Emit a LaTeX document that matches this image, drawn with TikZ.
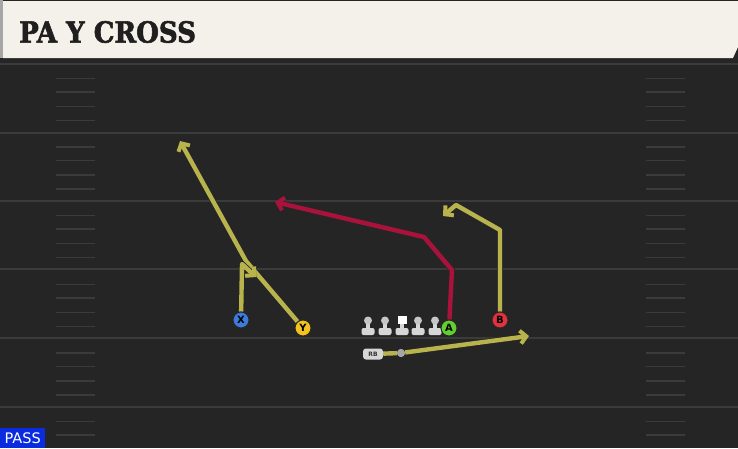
\documentclass[tikz,border=0pt]{standalone}
\usepackage{fontspec}
\setmainfont{DejaVu Sans}
\newfontfamily\titlefont[BoldFeatures={FakeBold=2}]{DejaVu Serif Condensed}
\usetikzlibrary{arrows.meta}

\definecolor{fieldgray}{HTML}{252525}
\definecolor{yardline}{HTML}{3B3B3B}
\definecolor{panel}{HTML}{F4F1EA}
\definecolor{routeyellow}{HTML}{B8B34C}
\definecolor{routered}{HTML}{A9133B}
\definecolor{passblue}{HTML}{0A2BE0}
\definecolor{xblue}{HTML}{3B7BDB}
\definecolor{yyellow}{HTML}{F2C31E}
\definecolor{agreen}{HTML}{62CF2E}
\definecolor{bred}{HTML}{E2323F}
\definecolor{manwhite}{HTML}{D6D6D6}

\tikzset{
  player/.style={circle, draw=black!85, line width=0.9pt, minimum size=16pt, inner sep=0pt, font=\bfseries\fontsize{10}{10}\selectfont},
  route/.style={line width=4.4pt, line join=round, preaction={draw=black!85, line width=6pt}},
  tip/.style={-{Straight Barb[length=6pt, width=13pt, line width=4pt]}},
  lineman/.pic={
    \fill[manwhite, rounded corners=2pt] (-6.5,-7) rectangle (6.5,0);
    \fill[manwhite] (-2.2,-13) rectangle (2.2,-6);
    \fill[gray!45] (0,-14.5) circle (4);
  },
  center/.pic={
    \fill[manwhite, rounded corners=2pt] (-6.5,-7) rectangle (6.5,0);
    \fill[manwhite] (-2.2,-13) rectangle (2.2,-6);
    \fill[white] (-4.5,-19) rectangle (4.5,-11);
  }
}

\begin{document}
\begin{tikzpicture}[x=1pt, y=-1pt]
    \useasboundingbox (0,0) rectangle (738,448);
    % field
    \fill[fieldgray] (0,0) rectangle (738,448);
    \fill[black!85] (0,56) rectangle (738,64);
    \foreach \y in {64,133,201,269,338,407}
        \draw[yardline, line width=1.6pt] (0,\y) -- (738,\y);
    \foreach \k in {0,...,5}
        \foreach \o in {14.5,28,42.5,56.5} {
            \draw[yardline, line width=1.5pt] (56,64+68.6*\k+\o) -- (95,64+68.6*\k+\o);
            \draw[yardline, line width=1.5pt] (646,64+68.6*\k+\o) -- (685,64+68.6*\k+\o);
        }
    % title bar
    \fill[gray!70] (0,0) rectangle (3,58);
    \fill[panel] (3,1) -- (738,1) -- (738,47) -- (733,58) -- (3,58) -- cycle;
    \node[anchor=west, inner sep=0pt, text=black!88, font=\titlefont\bfseries\fontsize{29}{29}\selectfont] (title) at (19,32) {PA Y CROSS};

    % offense
    \node[player, fill=xblue] (X) at (241,320) {X};
    \node[player, fill=yyellow] (Y) at (303,328) {Y};
    \node[player, fill=agreen] (A) at (449,328) {A};
    \node[player, fill=bred] (B) at (500,320) {B};
    \node[fill=manwhite, rounded corners=3pt, minimum width=20pt, minimum height=11pt, inner sep=0pt,
          font=\bfseries\fontsize{6}{6}\selectfont, text=black!80] (RB) at (373,354) {RB};
    \node[circle, fill=gray!70, minimum size=8pt, inner sep=0pt] (dot) at (401,353) {};
    \pic at (368,335) {lineman};
    \pic at (385,335) {lineman};
    \pic at (402,335) {center};
    \pic at (418,335) {lineman};
    \pic at (435,335) {lineman};

    % route points
    \coordinate (xbreak) at (242,264);
    \coordinate (xend) at (256,277);
    \coordinate (ybreak) at (246,261);
    \coordinate (yend) at (180,141);
    \coordinate (abreak1) at (452,270);
    \coordinate (abreak2) at (424,237);
    \coordinate (aend) at (275,202);
    \coordinate (bbreak1) at (500,230);
    \coordinate (bbreak2) at (456,205);
    \coordinate (bend) at (443,216);
    \coordinate (rbend) at (529,336);

    % routes
    \draw[route, routeyellow, tip] (Y) -- (ybreak) -- (yend);
    \draw[route, routeyellow, tip] (X) -- (xbreak) -- (xend);
    \draw[route, routered, tip] (A) -- (abreak1) -- (abreak2) -- (aend);
    \draw[route, routeyellow, tip] (B) -- (bbreak1) -- (bbreak2) -- (bend);
    \draw[route, routeyellow, tip] (RB) -- (dot) -- (rbend);
    \node[circle, fill=gray!70, minimum size=8pt, inner sep=0pt] at (dot) {};

    % redraw players on top
    \node[player, fill=xblue] at (X) {X};
    \node[player, fill=yyellow] at (Y) {Y};
    \node[player, fill=agreen] at (A) {A};
    \node[player, fill=bred] at (B) {B};

    % play type
    \node[anchor=south west, fill=passblue, text=white, inner sep=0pt, minimum width=45pt, minimum height=20pt,
          font=\fontsize{14.5}{14.5}\selectfont] (type) at (0,448) {PASS};
\end{tikzpicture}
\end{document}
